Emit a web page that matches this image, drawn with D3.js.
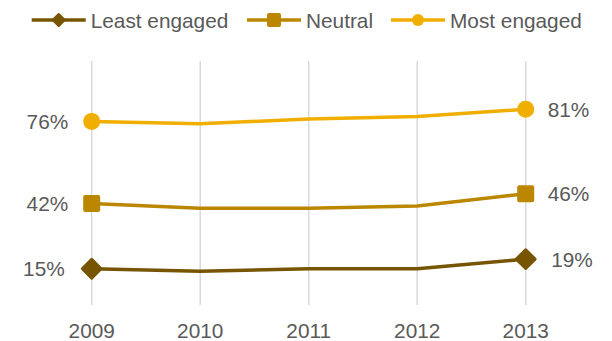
<!DOCTYPE html>
<html>
<head>
<meta charset="utf-8">
<script src="https://cdn.jsdelivr.net/npm/d3@7"></script>
<style>
	body { margin: 0; background: #fff; }
	svg { display: block; font-family: "Liberation Sans", Arial, sans-serif; }
</style>
</head>
<body>
<svg width="612" height="341"></svg>
<script>
const years = [2009, 2010, 2011, 2012, 2013];
const leastEngaged = [15, 14, 15, 15, 19];
const neutral = [42, 40, 40, 41, 46];
const mostEngaged = [76, 75, 77, 78, 81];

const seriesNames = ["Least engaged", "Neutral", "Most engaged"];
const seriesColors = ["#775500", "#bb8600", "#f0ae00"];
const seriesShapes = ["diamond", "square", "circle"];

const series = [leastEngaged, neutral, mostEngaged].map((values, i) => ({
	name: seriesNames[i],
	color: seriesColors[i],
	shape: seriesShapes[i],
	values: values.map((v, j) => ({ year: years[j], value: v }))
}));

const svg = d3.select("svg");
const textColor = "#595959";
const fontSize = 20.8;

const x = d3.scaleLinear()
	.domain([2009, 2013])
	.range([91.7, 525.7]);

const y = d3.scaleLinear()
	.domain([0, 100])
	.range([305, 63.4]);

// vertical gridlines
svg.append("g")
	.selectAll("line")
	.data(years)
	.join("line")
	.attr("x1", d => x(d))
	.attr("x2", d => x(d))
	.attr("y1", 61)
	.attr("y2", 305)
	.attr("stroke", "#d9d9d9")
	.attr("stroke-width", 1.5);

// x axis labels
svg.append("g")
	.selectAll("text")
	.data(years)
	.join("text")
	.attr("x", d => x(d))
	.attr("y", 337.5)
	.attr("text-anchor", "middle")
	.attr("font-size", fontSize)
	.attr("fill", textColor)
	.text(d => d);

function marker(g, shape, color, size) {
	if (shape === "circle") {
		g.append("circle").attr("r", size / 2).attr("fill", color);
	} else if (shape === "square") {
		g.append("rect")
			.attr("x", -size / 2).attr("y", -size / 2)
			.attr("width", size).attr("height", size)
			.attr("rx", 2)
			.attr("fill", color);
	} else {
		const s = size / Math.SQRT2;
		g.append("rect")
			.attr("x", -s / 2).attr("y", -s / 2)
			.attr("width", s).attr("height", s)
			.attr("rx", 1.5)
			.attr("transform", "rotate(45)")
			.attr("fill", color);
	}
}

const line = d3.line()
	.x(d => x(d.year))
	.y(d => y(d.value));

const chartSize = { circle: 17, square: 17, diamond: 23 };

series.forEach(s => {
	svg.append("path")
		.datum(s.values)
		.attr("d", line)
		.attr("fill", "none")
		.attr("stroke", s.color)
		.attr("stroke-width", 3.5);

	const ends = [s.values[0], s.values[s.values.length - 1]];
	ends.forEach(d => {
		const g = svg.append("g")
			.attr("transform", `translate(${x(d.year)},${y(d.value)})`);
		marker(g, s.shape, s.color, chartSize[s.shape]);
	});

	const off = s.shape === "diamond" ? 27 : 23.5;
	svg.append("text")
		.attr("x", x(ends[0].year) - off)
		.attr("y", y(ends[0].value))
		.attr("dy", "0.36em")
		.attr("text-anchor", "end")
		.attr("font-size", fontSize)
		.attr("fill", textColor)
		.text(d3.format(".0f")(ends[0].value) + "%");

	svg.append("text")
		.attr("x", x(ends[1].year) + off - 1.5)
		.attr("y", y(ends[1].value))
		.attr("dy", "0.36em")
		.attr("text-anchor", "start")
		.attr("font-size", fontSize)
		.attr("fill", textColor)
		.text(d3.format(".0f")(ends[1].value) + "%");
});

// legend
const legendX = [31.7, 247, 391];
const legendSize = { circle: 12, square: 14, diamond: 15 };

const legend = svg.append("g")
	.selectAll("g")
	.data(series)
	.join("g")
	.attr("transform", (d, i) => `translate(${legendX[i]},20)`);

legend.append("line")
	.attr("x1", 0)
	.attr("x2", 54)
	.attr("stroke", d => d.color)
	.attr("stroke-width", 3.5);

legend.each(function (d) {
	const g = d3.select(this).append("g").attr("transform", "translate(27,0)");
	marker(g, d.shape, d.color, legendSize[d.shape]);
});

legend.append("text")
	.attr("x", 59)
	.attr("dy", "0.36em")
	.attr("font-size", fontSize)
	.attr("fill", textColor)
	.text(d => d.name);
</script>
</body>
</html>
